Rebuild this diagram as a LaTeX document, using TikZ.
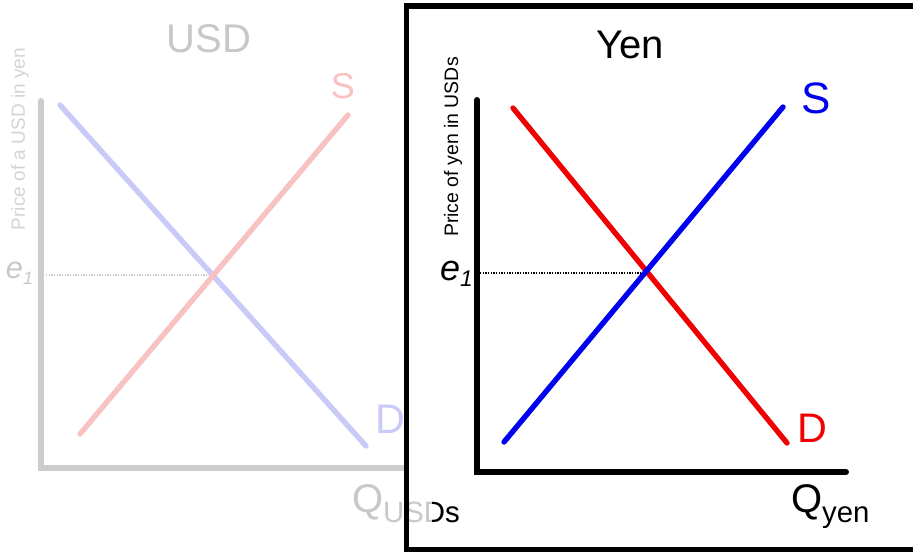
\documentclass[tikz,border=0pt]{standalone}
\usepackage{fontspec}
\setmainfont{Liberation Sans}
\definecolor{fgray}{RGB}{204,204,204}
\definecolor{tgray}{RGB}{200,200,200}
\definecolor{lgray}{RGB}{212,212,212}
\definecolor{fpink}{RGB}{248,194,194}
\definecolor{fblue}{RGB}{202,202,248}
\definecolor{sred}{RGB}{240,0,0}
\definecolor{sblue}{RGB}{0,0,240}
\begin{document}
\begin{tikzpicture}[x=0.75pt,y=-0.75pt,
  txt/.style={inner sep=0pt, outer sep=0pt},
  axisline/.style={line width=4.5pt, line cap=round},
  curve/.style={line width=4pt, line cap=round},
  dotline/.style={line width=0.8pt, line cap=butt, dash pattern=on 1pt off 1pt}]
\clip (0,0) rectangle (913,552);
\fill[white] (0,0) rectangle (913,552);

% ---------------- left (faded) panel ----------------
\coordinate (LY) at (41,101);
\coordinate (LO) at (41,468);
\coordinate (LX) at (420,468);
\draw[axisline, fgray] (LY) -- (LO) -- (LX);
\coordinate (LD1) at (60,105);
\coordinate (LD2) at (366,446);
\coordinate (LS1) at (80,434);
\coordinate (LS2) at (348,115);
\coordinate (Le) at (46,275);
\coordinate (LE) at (212,275);
\draw[dotline, tgray] (Le) -- (LE);
\draw[curve, fblue] (LD1) -- (LD2);
\draw[curve, fpink] (LS1) -- (LS2);
\node[txt, anchor=base, text=tgray, font=\fontsize{30}{30}\selectfont] (usd) at (209,53) {USD};
\node[txt, anchor=base, text=fpink, font=\fontsize{27}{27}\selectfont] (lS) at (343,99) {S};
\node[txt, anchor=base west, text=fblue, font=\fontsize{31}{31}\selectfont] (lD) at (375,433) {D};
\node[txt, anchor=base west, text=tgray] (le1) at (6,278) {\fontsize{23}{23}\selectfont\textit{e}\raisebox{-5pt}{\fontsize{13.5}{13.5}\selectfont\textit{1}}};
\node[txt, rotate=90, text=lgray, font=\fontsize{14.3}{14.3}\selectfont] (lylab) at (20,139) {Price of a USD in yen};

% ---------------- right (Yen) box ----------------
\coordinate (B1) at (406.5,6);
\coordinate (B2) at (950,549.5);
\fill[white] (B1) rectangle (B2);

% the Q_USDs label, grey outside the fade boundary, black beyond it
\node[txt, anchor=base west, text=tgray] (qusd) at (352,512) {\fontsize{30}{30}\selectfont Q\raisebox{-7.5pt}{\fontsize{22}{22}\selectfont USDs}};
\begin{scope}
\clip (432,0) rectangle (913,552);
\node[txt, anchor=base west, text=black] (qusdb) at (352,512) {\fontsize{30}{30}\selectfont Q\raisebox{-7.5pt}{\fontsize{22}{22}\selectfont USDs}};
\end{scope}

\draw[line width=3.9pt] (B1) rectangle (B2);

\coordinate (RY) at (477,100);
\coordinate (RO) at (477,472);
\coordinate (RX) at (846,472);
\draw[axisline, black] (RY) -- (RO) -- (RX);
\coordinate (RD1) at (513,108);
\coordinate (RD2) at (787,443);
\coordinate (RS1) at (504,442);
\coordinate (RS2) at (783,107);
\coordinate (Re) at (480,273);
\coordinate (RE) at (647,273);
\draw[dotline, black] (Re) -- (RE);
\draw[curve, sred] (RD1) -- (RD2);
\draw[curve, sblue] (RS1) -- (RS2);
\node[txt, anchor=base, font=\fontsize{30}{30}\selectfont] (yen) at (630,59) {Yen};
\node[txt, anchor=base, text=sblue, font=\fontsize{33}{33}\selectfont] (rS) at (816,114) {S};
\node[txt, anchor=base, text=sred, font=\fontsize{31}{31}\selectfont] (rD) at (812,442) {D};
\node[txt, anchor=base west] (re1) at (440,281) {\fontsize{27}{27}\selectfont\textit{e}\raisebox{-4.5pt}{\fontsize{17}{17}\selectfont\textit{1}}};
\node[txt, rotate=90, font=\fontsize{14.6}{14.6}\selectfont] (rylab) at (453,147) {Price of yen in USDs};
\node[txt, anchor=base west] (qyen) at (791,512) {\fontsize{30}{30}\selectfont Q\raisebox{-7.5pt}{\fontsize{22}{22}\selectfont yen}};
\end{tikzpicture}
\end{document}
